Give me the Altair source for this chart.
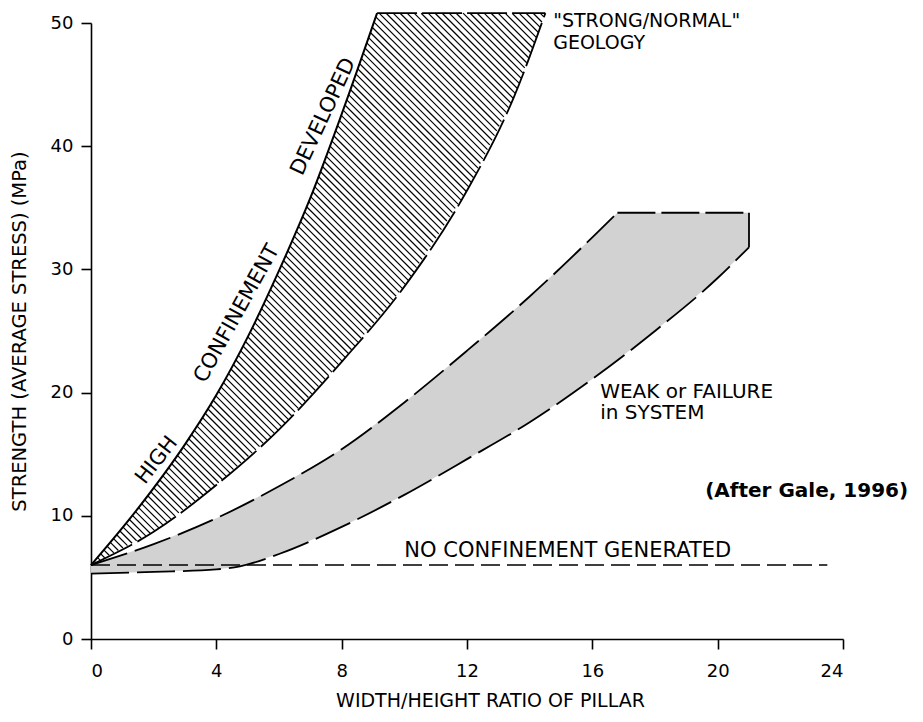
import altair as alt
import numpy as np
import pandas as pd

# ---------------- data ----------------
X_TICKS = [0, 4, 8, 12, 16, 20, 24]
Y_TICKS = [0, 10, 20, 30, 40, 50]

# "Strong / normal geology" band (hatched)
strong_upper_x = [0, 1.5, 3.0, 4.0, 5.0, 6.0, 7.0, 8.0, 9.13]
strong_upper_y = [6, 10.6, 15.8, 19.8, 24.5, 29.9, 35.8, 42.6, 50.8]
strong_lower_x = [0, 2, 4, 6, 8, 10, 12, 13.5, 14.5]
strong_lower_y = [6, 8.7, 12.5, 17.0, 22.5, 28.6, 36.4, 44.0, 50.8]

# "Weak or failure in system" band (stippled)
weak_upper_x = [0, 2, 4, 6, 8, 10, 12, 14, 16, 16.8]
weak_upper_y = [6, 7.7, 9.8, 12.4, 15.4, 19.2, 23.4, 27.8, 32.6, 34.6]
weak_top_x = [16.8, 21]
weak_top_y = [34.6, 34.6]
weak_right_x = [21, 21]
weak_right_y = [34.6, 31.8]
weak_lower_x = [0, 2, 4, 4.75, 6, 8, 10, 12, 14, 16, 18, 20, 21]
weak_lower_y = [5.3, 5.45, 5.65, 5.9, 6.9, 9.1, 11.7, 14.6, 17.6, 21.1, 25.0, 29.3, 31.8]

# no confinement line
noconf_x = [0, 23.5]
noconf_y = [6, 6]

# annotations (data coordinates)
top_text = ['"STRONG/NORMAL"', "GEOLOGY"]
top_x = [14.75, 14.75]
top_y = [49.65, 47.9]

weak_text = ["WEAK or FAILURE", "in SYSTEM"]
weak_tx = [16.25, 16.25]
weak_ty = [19.6, 17.85]

noconf_text = ["NO CONFINEMENT GENERATED"]
noconf_tx = [10.0]
noconf_ty = [6.65]

bold_text = ["(After Gale, 1996)"]
bold_x = [19.6]
bold_y = [11.5]

rot_text = ["HIGH", "CONFINEMENT", "DEVELOPED"]
rot_x = [2.1, 4.66, 7.42]
rot_y = [14.5, 26.4, 42.4]
rot_angle = [308, 299, 295]

# ---------------- layout ----------------
W, H = 752, 616
XMAX, YMAX = 24, 50
FONT = "DejaVu Sans"

xscale = alt.Scale(domain=[0, XMAX], nice=False)
yscale = alt.Scale(domain=[0, YMAX], nice=False)

xaxis = alt.Axis(values=X_TICKS, title="WIDTH/HEIGHT RATIO OF PILLAR",
                 titleX=W / 2 + 23, titleY=67, titleAlign="center",
                 titleBaseline="alphabetic", titleFont=FONT, titleFontSize=19,
                 titleFontWeight="normal", titleColor="black",
                 tickSize=10, labelPadding=13, labelFont=FONT, labelFontSize=18,
                 labelColor="black", domainColor="black", tickColor="black",
                 domainWidth=1.6, tickWidth=1.6, grid=False)
yaxis = alt.Axis(values=Y_TICKS, title="STRENGTH (AVERAGE STRESS) (MPa)",
                 titleX=-72, titleY=H / 2, titleAngle=270, titleAlign="center",
                 titleBaseline="middle", titleFont=FONT, titleFontSize=19.5,
                 titleFontWeight="normal", titleColor="black",
                 tickSize=10, labelPadding=8, labelFont=FONT, labelFontSize=18,
                 labelColor="black", domainColor="black", tickColor="black",
                 domainWidth=1.6, tickWidth=1.6, grid=False)


def X(f="x"):
    return alt.X(f"{f}:Q", scale=xscale, axis=xaxis)


def Y(f="y"):
    return alt.Y(f"{f}:Q", scale=yscale, axis=yaxis)


def line_df(xs, ys):
    return pd.DataFrame({"x": xs, "y": ys, "i": range(len(xs))})


# ---------- stippled band fill (between weak lower and weak upper) ----------
wu_x = weak_upper_x + [weak_top_x[-1]]
wu_y = weak_upper_y + [weak_top_y[-1]]
grid = np.unique(np.array(wu_x + weak_lower_x, dtype=float))
weak_fill = pd.DataFrame({
    "x": grid,
    "y": np.interp(grid, wu_x, wu_y),
    "y2": np.interp(grid, weak_lower_x, weak_lower_y),
})
fill_layer = alt.Chart(weak_fill).mark_area(color="#d2d2d2", opacity=1).encode(
    x=X(), y=Y(), y2="y2:Q")

# ---------- hatching of the strong band, clipped to the band ----------
px_x = W / XMAX
px_y = H / YMAX
k = px_x / px_y                # 45 degree hatch in screen space
dc = 7.0 / px_y                # ~7 px horizontal spacing
xs = np.linspace(0, strong_lower_x[-1], 4000)
U = np.interp(xs, strong_upper_x, strong_upper_y)
L = np.interp(xs, strong_lower_x, strong_lower_y)
segs = []
c = strong_upper_y[0] + dc
cmax = strong_lower_y[-1] + k * strong_lower_x[-1]
while c < cmax:
    yl = c - k * xs
    inside = (yl >= L) & (yl <= U)
    if inside.any():
        x1 = xs[inside].min()
        x2 = xs[inside].max()
        segs.append((x1, c - k * x1, x2, c - k * x2))
    c += dc
hatch = pd.DataFrame(segs, columns=["x", "y", "x2", "y2"])
hatch_layer = alt.Chart(hatch).mark_rule(color="black", strokeWidth=1.2).encode(
    x=X(), y=Y(), x2="x2:Q", y2="y2:Q")


def curve(xs_, ys_, dash=None, width=1.8, interp="monotone"):
    kw = dict(color="black", strokeWidth=width, interpolate=interp)
    if dash:
        kw["strokeDash"] = dash
    return alt.Chart(line_df(xs_, ys_)).mark_line(**kw).encode(
        x=X(), y=Y(), order="i:Q")


lines = [
    curve(strong_upper_x, strong_upper_y, width=2.0),
    curve(strong_lower_x, strong_lower_y, dash=[46, 6]),
    curve([strong_upper_x[-1], strong_lower_x[-1]],
          [strong_upper_y[-1], strong_lower_y[-1]], dash=[40, 5], interp="linear"),
    curve(weak_upper_x, weak_upper_y, dash=[38, 8]),
    curve(weak_top_x, weak_top_y, dash=[38, 6], interp="linear"),
    curve(weak_right_x, weak_right_y, interp="linear"),
    curve(weak_lower_x, weak_lower_y, dash=[38, 8]),
    curve(noconf_x, noconf_y, dash=[19, 7], width=1.5, interp="linear"),
]


def text_layer(xs_, ys_, texts, size, weight="normal"):
    return alt.Chart(pd.DataFrame({"x": xs_, "y": ys_, "t": texts})).mark_text(
        font=FONT, fontSize=size, fontWeight=weight, align="left",
        baseline="alphabetic", color="black").encode(x=X(), y=Y(), text="t:N")


texts = [
    text_layer(top_x, top_y, top_text, 19),
    text_layer(weak_tx, weak_ty, weak_text, 20),
    text_layer(noconf_tx, noconf_ty, noconf_text, 21),
    text_layer(bold_x, bold_y, bold_text, 20, "bold"),
]
rot_layer = alt.Chart(pd.DataFrame({"x": rot_x, "y": rot_y, "t": rot_text, "a": rot_angle})).mark_text(
    font=FONT, fontSize=21, align="center", baseline="middle", color="black").encode(
    x=X(), y=Y(), text="t:N", angle=alt.Angle("a:Q", scale=None))

chart = alt.layer(fill_layer, hatch_layer, *lines, *texts, rot_layer).properties(
    width=W, height=H,
    padding={"left": 83, "top": 15, "right": 72, "bottom": 76},
    autosize=alt.AutoSizeParams(type="none"),
    background="white",
).configure_view(stroke=None)

chart.save("out.html", embed_options={"renderer": "svg", "actions": False})
